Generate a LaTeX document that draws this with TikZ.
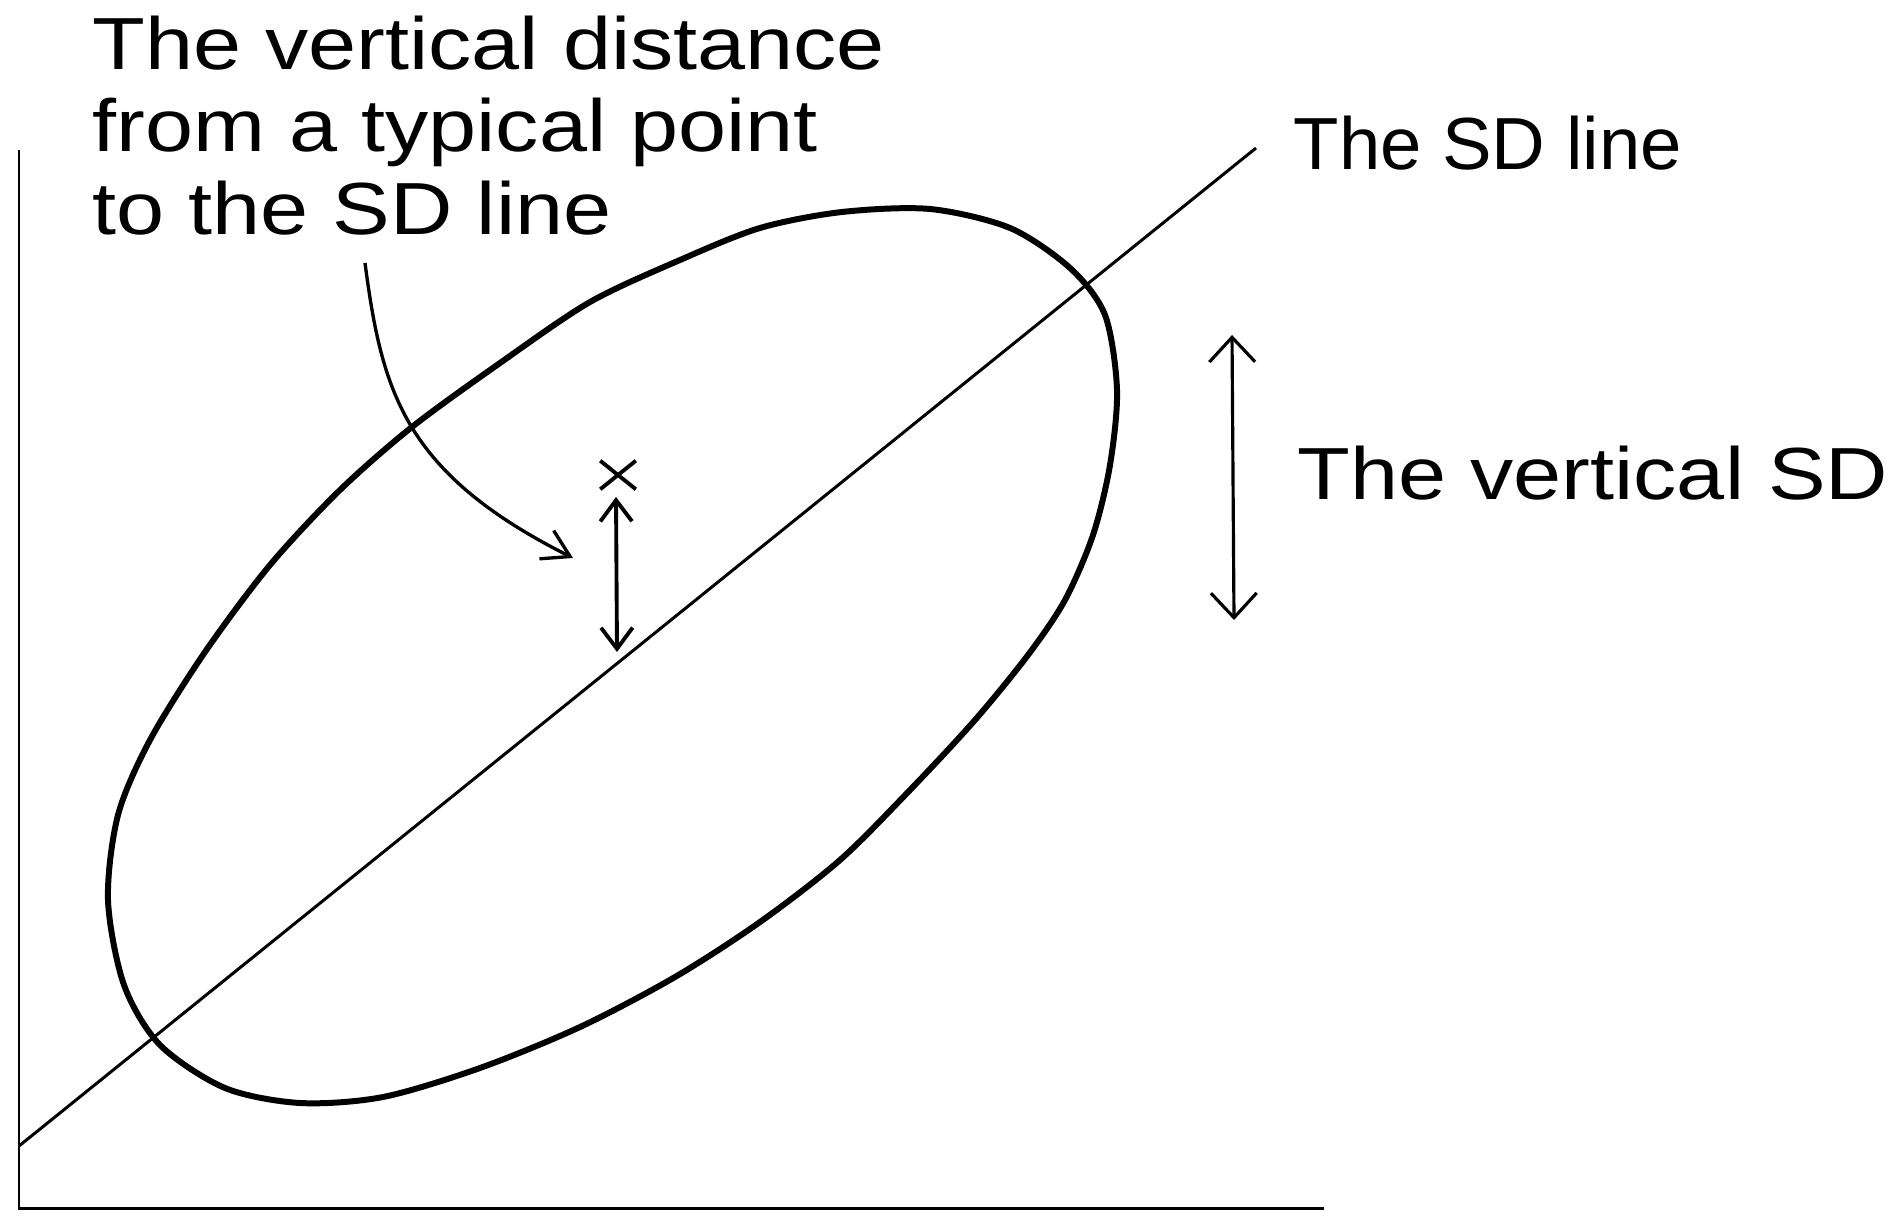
\documentclass[tikz,border=0pt]{standalone}
\usepackage{fontspec}
\newfontfamily\handfont[FakeStretch=1.17]{Liberation Sans}
\usetikzlibrary{arrows.meta,shapes.misc}

\begin{document}
\begin{tikzpicture}[x=0.01cm,y=-0.01cm]

    \tikzset{
      datapoint/.style={
        line width=1.1pt,
        draw,
        cross out,
        inner sep=0pt,
        minimum width=9pt,
        minimum height=7pt,
      },
      caption/.style={
        font=\handfont\fontsize{21pt}{23.6pt}\selectfont,
        inner sep=0pt,
        anchor=base west,
        align=left,
      },
    }
    \useasboundingbox (0,0) rectangle (1892,1225);

    % axes and the SD line
    \coordinate (ytop) at (19,150);
    \coordinate (origin) at (19,1208);
    \coordinate (xend) at (1324,1208);
    \coordinate (sdstart) at (19,1146);
    \coordinate (sdend) at (1256,148);
	\draw[color={black}, line width=0.85pt] (ytop)--(origin)--(xend);
	\draw[color={black}, line width=0.85pt] (sdstart)--(sdend);

    % the cloud of points
	\draw[color={black}, line width=1.7pt] plot[smooth cycle] coordinates {
	  (842,212) (930,209) (1010,228) (1070,268) (1105,315) (1117,390)
	  (1110,465) (1093,535) (1065,600) (1028,655) (975,720) (910,790)
	  (840,860) (760,922) (675,977) (580,1027) (480,1068) (383,1097)
	  (300,1103) (225,1088) (160,1045) (124,985) (108,900) (118,815)
	  (150,740) (205,652) (270,565) (340,490) (412,427) (500,363)
	  (590,302) (680,260) (760,228)};

    % a typical point and its distance to the line
    \node[datapoint] (pt) at (618,475) {};
    \coordinate (gaptop) at (616,497);
    \coordinate (gapbot) at (617,652);
	\draw[color={black}, line width=1.1pt, {Straight Barb[length=6pt,width=9pt]}-{Straight Barb[length=6pt,width=9pt]}] (gaptop)--(gapbot);

    % the vertical SD
    \coordinate (vsdtop) at (1232,335);
    \coordinate (vsdbot) at (1234,620);
	\draw[color={black}, line width=0.9pt, {Straight Barb[length=7pt,width=13pt]}-{Straight Barb[length=7pt,width=13pt]}] (vsdtop)--(vsdbot);

    % labels
    \node[caption] (distlabel) at (92,235) {The vertical distance\\from a typical point\\to the SD line};
    \node[caption, xscale=0.86] (sdlabel) at (1293,170) {The SD line};
    \node[caption] (vsdlabel) at (1297,500) {The vertical SD};

    \coordinate (bendstart) at (365,263);
    \coordinate (bendend) at (573,558);
	\draw[color={black}, line width=0.95pt, -{Straight Barb[length=7.5pt,width=9pt]}] (bendstart) .. controls (382,392) and (404,473) .. (bendend);

\end{tikzpicture}
\end{document}
